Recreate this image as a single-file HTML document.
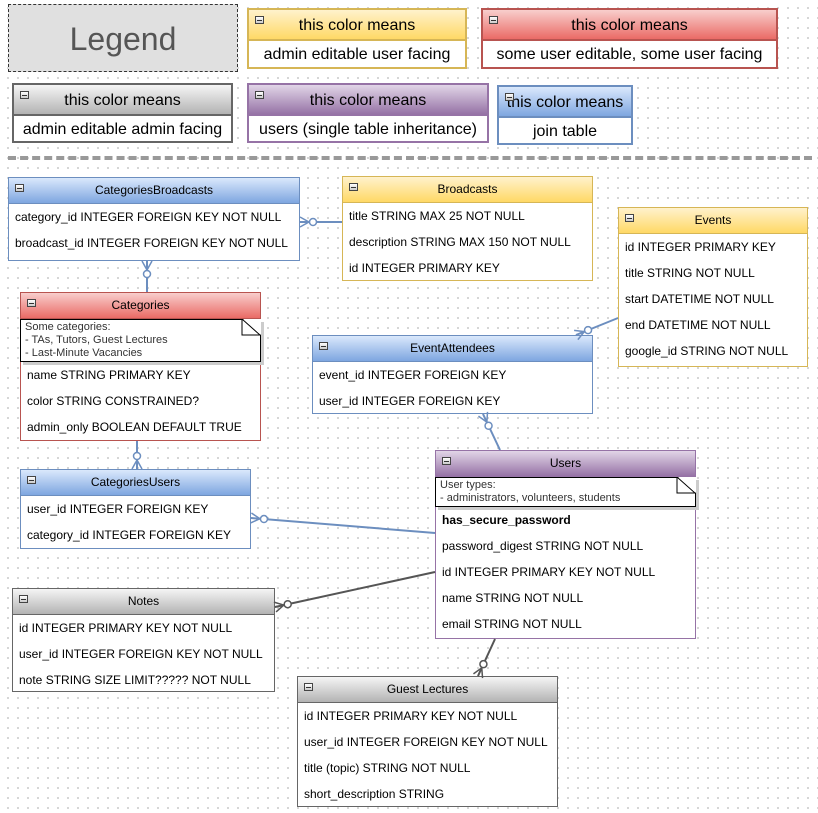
<!DOCTYPE html>
<html><head><meta charset="utf-8"><style>
body{margin:0;width:818px;height:813px;position:relative;overflow:hidden;font-family:"Liberation Sans",Arial,sans-serif;
background-color:#fff;background-image:radial-gradient(circle,#c8c8c8 0.8px,transparent 1px);background-size:10px 10px;background-position:3px 3px}
.t{position:absolute;box-sizing:border-box;background:#fff;border:1px solid}
.h{height:25px;line-height:25px;text-align:center;font-size:12px;position:relative;border-bottom:1px solid}
.h:before{content:"";position:absolute;left:6px;top:6px;width:7px;height:6px;border:1px solid #444;background:linear-gradient(#fff,#ccc)}
.h:after{content:"";position:absolute;left:8px;top:10px;width:5px;height:1px;background:#333}
.r{font-size:12px;height:26px;line-height:26px;padding-left:6px;white-space:nowrap}
.b{border-color:#6c8ebf}.b .h{background:linear-gradient(#dae8fc,#7ea6e0);border-color:#6c8ebf}
.y{border-color:#d6b656}.y .h{background:linear-gradient(#fff2cc,#ffd966);border-color:#d6b656}
.rd{border-color:#b85450}.rd .h{background:linear-gradient(#f8cecc,#ea6b66);border-color:#b85450}
.g{border-color:#666}.g .h{background:linear-gradient(#f5f5f5,#b3b3b3);border-color:#666}
.p{border-color:#9673a6}.p .h{background:linear-gradient(#e1d5e7,#9673a6);border-color:#9673a6}
.L{border-width:2px}.L .h{height:29px;line-height:31px;font-size:16px;border-bottom-width:2px}
.L .r{font-size:16px;height:28px;line-height:28px;text-align:center;padding:0}
.note{border:1px solid #000;margin:0 -1px;font-size:11px;line-height:13px;padding:1px 4px;color:#333;position:relative;box-shadow:3px 3px 0 #ccc;background:#fff}
.note:after{content:"";position:absolute;right:-1px;top:-1px;width:0;height:0;border-left:18px solid transparent;border-top:16px solid #fff}
.fold{position:absolute;right:-1px;top:-1px;width:20px;height:18px}
</style></head><body>
<div style="position:absolute;left:8px;top:4px;width:230px;height:68px;box-sizing:border-box;border:1px dashed #333;background:#e0e0e0;text-align:center;line-height:68px;font-size:32px;color:#555">Legend</div>
<div class="t y L" style="left:247px;top:8px;width:220px;height:61px"><div class="h">this color means</div><div class="r">admin editable user facing</div></div>
<div class="t rd L" style="left:481px;top:8px;width:297px;height:61px"><div class="h">this color means</div><div class="r">some user editable, some user facing</div></div>
<div class="t g L" style="left:12px;top:83px;width:221px;height:60px"><div class="h">this color means</div><div class="r">admin editable admin facing</div></div>
<div class="t p L" style="left:247px;top:83px;width:242px;height:60px"><div class="h">this color means</div><div class="r">users (single table inheritance)</div></div>
<div class="t b L" style="left:497px;top:85px;width:136px;height:60px"><div class="h">this color means</div><div class="r">join table</div></div>
<div style="position:absolute;left:8px;top:156px;width:804px;height:0;border-top:4px dashed #999"></div>

<div class="t b" style="left:8px;top:177px;width:292px;height:84px"><div class="h">CategoriesBroadcasts</div><div class="r">category_id INTEGER FOREIGN KEY NOT NULL</div><div class="r">broadcast_id INTEGER FOREIGN KEY NOT NULL</div></div>
<div class="t y" style="left:342px;top:176px;width:251px;height:105px"><div class="h">Broadcasts</div><div class="r">title STRING MAX 25 NOT NULL</div><div class="r">description STRING MAX 150 NOT NULL</div><div class="r">id INTEGER PRIMARY KEY</div></div>
<div class="t y" style="left:618px;top:207px;width:190px;height:160px"><div class="h">Events</div><div class="r">id INTEGER PRIMARY KEY</div><div class="r">title STRING NOT NULL</div><div class="r">start DATETIME NOT NULL</div><div class="r">end DATETIME NOT NULL</div><div class="r">google_id STRING NOT NULL</div></div>
<div class="t rd" style="left:20px;top:292px;width:241px;height:149px"><div class="h">Categories</div><div class="note" style="height:43px;box-sizing:border-box">Some categories:<br>- TAs, Tutors, Guest Lectures<br>- Last-Minute Vacancies<svg class="fold" viewBox="0 0 20 18"><path d="M1 0 L19 16 L1 16 Z" fill="#fff" stroke="#000"/></svg></div><div class="r">name STRING PRIMARY KEY</div><div class="r">color STRING CONSTRAINED?</div><div class="r">admin_only BOOLEAN DEFAULT TRUE</div></div>
<div class="t b" style="left:312px;top:335px;width:281px;height:79px"><div class="h">EventAttendees</div><div class="r">event_id INTEGER FOREIGN KEY</div><div class="r">user_id INTEGER FOREIGN KEY</div></div>
<div class="t b" style="left:20px;top:469px;width:231px;height:80px"><div class="h">CategoriesUsers</div><div class="r">user_id INTEGER FOREIGN KEY</div><div class="r">category_id INTEGER FOREIGN KEY</div></div>
<div class="t p" style="left:435px;top:450px;width:261px;height:189px"><div class="h">Users</div><div class="note" style="height:30px;box-sizing:border-box">User types:<br>- administrators, volunteers, students<svg class="fold" viewBox="0 0 20 18"><path d="M1 0 L19 16 L1 16 Z" fill="#fff" stroke="#000"/></svg></div><div class="r" style="font-weight:bold">has_secure_password</div><div class="r">password_digest STRING NOT NULL</div><div class="r">id INTEGER PRIMARY KEY NOT NULL</div><div class="r">name STRING NOT NULL</div><div class="r">email STRING NOT NULL</div></div>
<div class="t g" style="left:12px;top:588px;width:263px;height:104px"><div class="h">Notes</div><div class="r">id INTEGER PRIMARY KEY NOT NULL</div><div class="r">user_id INTEGER FOREIGN KEY NOT NULL</div><div class="r">note STRING SIZE LIMIT????? NOT NULL</div></div>
<div class="t g" style="left:297px;top:676px;width:261px;height:131px"><div class="h">Guest Lectures</div><div class="r">id INTEGER PRIMARY KEY NOT NULL</div><div class="r">user_id INTEGER FOREIGN KEY NOT NULL</div><div class="r">title (topic) STRING NOT NULL</div><div class="r">short_description STRING</div></div>

<svg id="s" width="818" height="813" style="position:absolute;left:0;top:0" xmlns="http://www.w3.org/2000/svg"></svg>
<script>
var s=document.getElementById('s'),o='';
function c(x1,y1,x2,y2,col){ // crow at (x1,y1)
 var dx=x2-x1,dy=y2-y1,l=Math.hypot(dx,dy);dx/=l;dy/=l;var px=-dy,py=dx;
 o+='<line x1="'+x1+'" y1="'+y1+'" x2="'+x2+'" y2="'+y2+'" stroke="'+col+'" stroke-width="2"/>';
 var qx=x1+dx*9,qy=y1+dy*9;
 [[0],[5],[-5]].forEach(function(k){o+='<line x1="'+qx+'" y1="'+qy+'" x2="'+(x1+px*k[0])+'" y2="'+(y1+py*k[0])+'" stroke="'+col+'" stroke-width="1.5"/>';});
 o+='<circle cx="'+(x1+dx*13)+'" cy="'+(y1+dy*13)+'" r="3.5" fill="#fff" stroke="'+col+'" stroke-width="1.5"/>';
}
var B='#6c8ebf',G='#555';
c(300,222,342,222,B);c(147,261,147,292,B);c(137,469,137,441,B);
c(251,518,435,533,B);c(576,335,618,318,B);c(483,414,500,450,B);
c(275,607,435,572,G);c(478,676,495,639,G);
s.innerHTML=o;
</script>
</body></html>
